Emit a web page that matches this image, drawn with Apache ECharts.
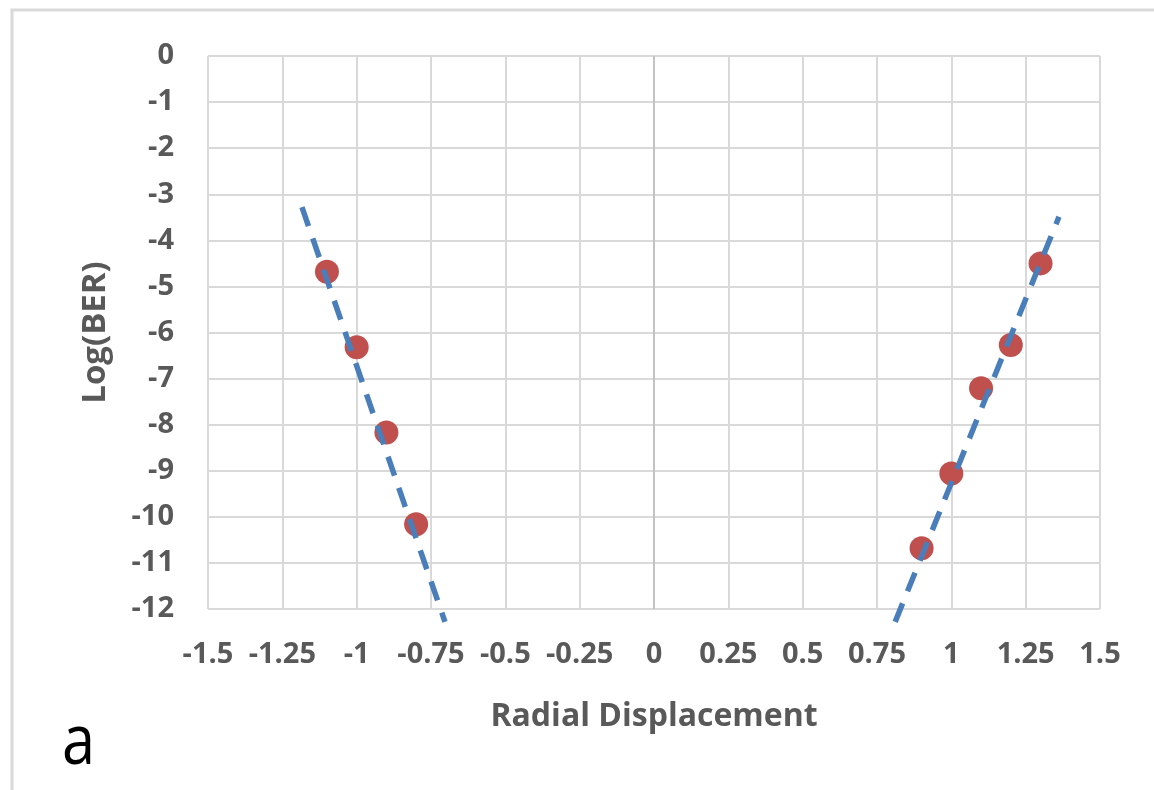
<!DOCTYPE html>
<html>
<head>
<meta charset="utf-8">
<script src="https://cdn.jsdelivr.net/npm/echarts@6/dist/echarts.min.js"></script>
<style>
  html, body { margin: 0; padding: 0; background: #fff; }
  #chart { width: 1154px; height: 790px; }
</style>
</head>
<body>
<div id="chart"></div>
<script>
// Measured log(BER) against radial displacement, on each side of centre
const leftX = [-1.1, -1.0, -0.9, -0.8];
const leftY = [-4.68, -6.32, -8.17, -10.16];
const rightX = [0.9, 1.0, 1.1, 1.2, 1.3];
const rightY = [-10.68, -9.06, -7.21, -6.27, -4.5];

// Linear trend lines, given by their two end points
const leftTrendX = [-1.184, -0.703];
const leftTrendY = [-3.28, -12.28];
const rightTrendX = [0.811, 1.362];
const rightTrendY = [-12.28, -3.49];

// Axis ranges and steps
const xRange = [-1.5, 1.5];
const xStep = 0.25;
const yRange = [-12, 0];
const yStep = 1;

const pairs = (xs, ys) => xs.map((x, i) => [x, ys[i]]);

const labelFont = {
  fontFamily: 'Open Sans',
  fontWeight: 'bold',
  fontSize: 29,
  color: '#595959'
};

const titleFont = {
  fontFamily: 'Open Sans',
  fontWeight: 'bold',
  fontSize: 32,
  color: '#595959'
};

const trendStyle = {
  color: '#4a7ebb',
  width: 5.5,
  type: [20, 13],
  cap: 'butt'
};

const chart = echarts.init(document.getElementById('chart'), null, { renderer: 'canvas' });
chart.setOption({
  animation: false,
  backgroundColor: '#ffffff',
  grid: { left: 208, right: 54, top: 56, bottom: 181, containLabel: false },
  xAxis: {
    type: 'value',
    min: xRange[0],
    max: xRange[1],
    interval: xStep,
    name: 'Radial Displacement',
    nameLocation: 'middle',
    nameGap: 92,
    nameTextStyle: titleFont,
    axisLine: { show: false },
    axisTick: { show: false },
    axisLabel: Object.assign({ margin: 31, showMinLabel: true, showMaxLabel: true }, labelFont),
    splitLine: { show: true, lineStyle: { color: '#d9d9d9', width: 2 } }
  },
  yAxis: {
    type: 'value',
    min: yRange[0],
    max: yRange[1],
    interval: yStep,
    name: 'Log(BER)',
    nameLocation: 'middle',
    nameGap: 96,
    nameTextStyle: Object.assign({}, titleFont, { fontSize: 33 }),
    axisLine: { show: false },
    axisTick: { show: false },
    axisLabel: Object.assign({ margin: 34 }, labelFont),
    splitLine: { show: true, lineStyle: { color: '#d9d9d9', width: 2 } }
  },
  series: [
    {
      name: 'measured',
      type: 'scatter',
      data: pairs(leftX, leftY).concat(pairs(rightX, rightY)),
      symbol: 'circle',
      symbolSize: 24,
      itemStyle: { color: '#c0504d', opacity: 1 },
      z: 2,
      markLine: {
        silent: true,
        symbol: 'none',
        label: { show: false },
        lineStyle: { color: '#c3c3c3', width: 2, type: 'solid' },
        data: [{ xAxis: 0 }],
        z: 1
      }
    },
    {
      name: 'trend left',
      type: 'line',
      data: pairs(leftTrendX, leftTrendY),
      showSymbol: false,
      symbol: 'none',
      clip: false,
      lineStyle: trendStyle,
      z: 3
    },
    {
      name: 'trend right',
      type: 'line',
      data: pairs(rightTrendX, rightTrendY),
      showSymbol: false,
      symbol: 'none',
      clip: false,
      lineStyle: trendStyle,
      z: 3
    }
  ],
  graphic: [
    {
      type: 'rect',
      shape: { x: 12, y: 10, width: 1300, height: 900 },
      style: { fill: 'none', stroke: '#d9d9d9', lineWidth: 3 },
      silent: true
    },
    {
      type: 'text',
      x: 62,
      y: 744,
      scaleX: 0.85,
      style: {
        text: 'a',
        fontFamily: 'Open Sans',
        fontSize: 70,
        fill: '#000000',
        textVerticalAlign: 'middle',
        verticalAlign: 'middle'
      },
      silent: true
    }
  ]
});
</script>
</body>
</html>
